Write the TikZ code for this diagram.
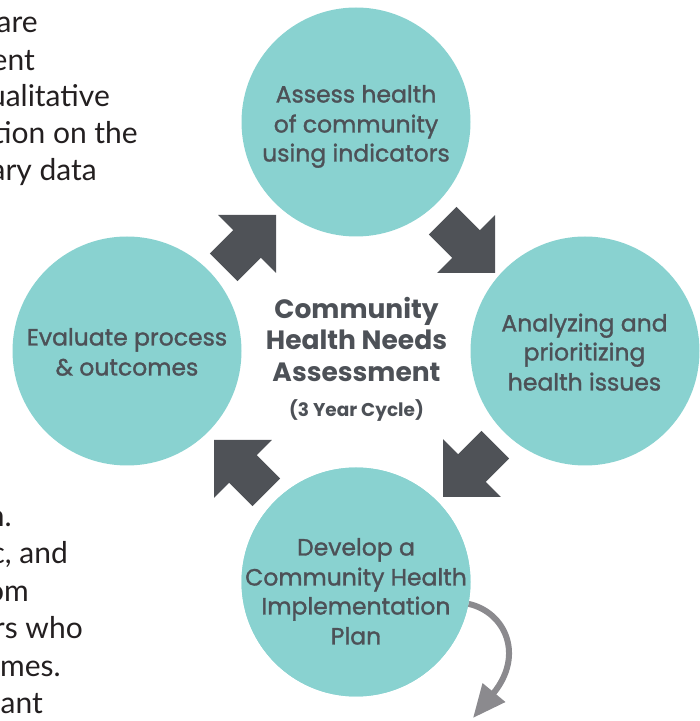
\documentclass[tikz,border=0pt]{standalone}
\usepackage{fontspec}
\setmainfont{Poppins}
\newfontfamily\sidefont{Lato}
\newfontfamily\medfont[FakeBold=1.3]{Poppins}
\usetikzlibrary{arrows.meta}
\definecolor{cteal}{HTML}{89D2D0}
\definecolor{cdark}{HTML}{4F5257}
\definecolor{ctext}{HTML}{4D5157}
\definecolor{cside}{HTML}{231F20}
\definecolor{cgray}{HTML}{8B8A8E}
\begin{document}
\begin{tikzpicture}[x=1pt,y=1pt,
  circ/.style={circle,fill=cteal,minimum size=229pt,inner sep=0pt},
  ctxt/.style={anchor=base,inner sep=0pt,text=ctext,font=\fontsize{23.5}{26}\medfont},
  mtxt/.style={anchor=base,inner sep=0pt,text=ctext,font=\fontsize{26.5}{30}\selectfont\bfseries},
  stxt/.style={anchor=base,inner sep=0pt,text=ctext,font=\fontsize{18.5}{20}\selectfont\bfseries},
  side/.style={anchor=base east,inner sep=0pt,text=cside,font=\fontsize{30}{36}\sidefont},
  blockarrow/.style={fill=cdark},
  curvearrow/.style={draw=cgray,line width=6pt,-{Triangle[width=28pt,length=33pt]}}]
\useasboundingbox (0,0) rectangle (700,721);
\clip (0,0) rectangle (700,721);
% side text fragments
\node[side] (s1) at (38,688) {are};
\node[side] (s2) at (35,650.5) {ent};
\node[side] (s3) at (110,614) {ualitative};
\node[side] (s4) at (138,577) {tion on the};
\node[side] (s5) at (97,540) {ary data};
\node[side] (s6) at (12,194) {n.};
\node[side] (s7) at (68,157) {c, and};
\node[side] (s8) at (29,119) {om};
\node[side] (s9) at (83,82) {rs who};
\node[side] (s10) at (61,44) {mes.};
\node[side] (s11) at (43,7) {ant};
% curved arrow (behind bottom circle)
\node[circ] (bot) at (356,139) {};
\coordinate (ctip) at (473,3);
\draw[curvearrow] (bot.-11.6) .. controls (505,109) and (525,66) .. (ctip);
\node[circ] (bot) at (356,139) {};
% circles
\node[circ] (top) at (356,599) {};
\node[circ] (lft) at (127,370) {};
\node[circ] (rgt) at (585,370) {};
% block arrows
\coordinate (a1) at (276,506);
\coordinate (a2) at (495,448);
\coordinate (a3) at (443,224);
\coordinate (a4) at (214,281);
\foreach \p/\r in {a1/45,a2/-45,a3/-135,a4/135}{
  \fill[blockarrow,shift={(\p)},rotate=\r] (0,0) -- (-41,41) -- (-41,19.5) -- (-74,19.5) -- (-74,-19.5) -- (-41,-19.5) -- (-41,-41) -- cycle;
}
% circle texts
\node[ctxt] (t1) at (356,618.5) {Assess health};
\node[ctxt] (t2) at (356,588.5) {of community};
\node[ctxt] (t3) at (356,559.5) {using indicators};
\node[ctxt] (l1) at (127,375.5) {Evaluate process};
\node[ctxt] (l2) at (127,345.5) {\& outcomes};
\node[ctxt] (r1) at (584.5,389.5) {Analyzing and};
\node[ctxt] (r2) at (584.5,360.5) {prioritizing};
\node[ctxt] (r3) at (584.5,330.5) {health issues};
\node[ctxt] (b1) at (356,165.5) {Develop a};
\node[ctxt] (b2) at (356,135.5) {Community Health};
\node[ctxt] (b3) at (356,106.5) {Implementation};
\node[ctxt] (b4) at (356,76.5) {Plan};
% centre text
\node[mtxt] (m1) at (356.5,402.5) {Community};
\node[mtxt] (m2) at (356.5,371) {Health Needs};
\node[mtxt] (m3) at (356.5,339.5) {Assessment};
\node[stxt] (m4) at (356.5,304) {(3 Year Cycle)};
\end{tikzpicture}
\end{document}
